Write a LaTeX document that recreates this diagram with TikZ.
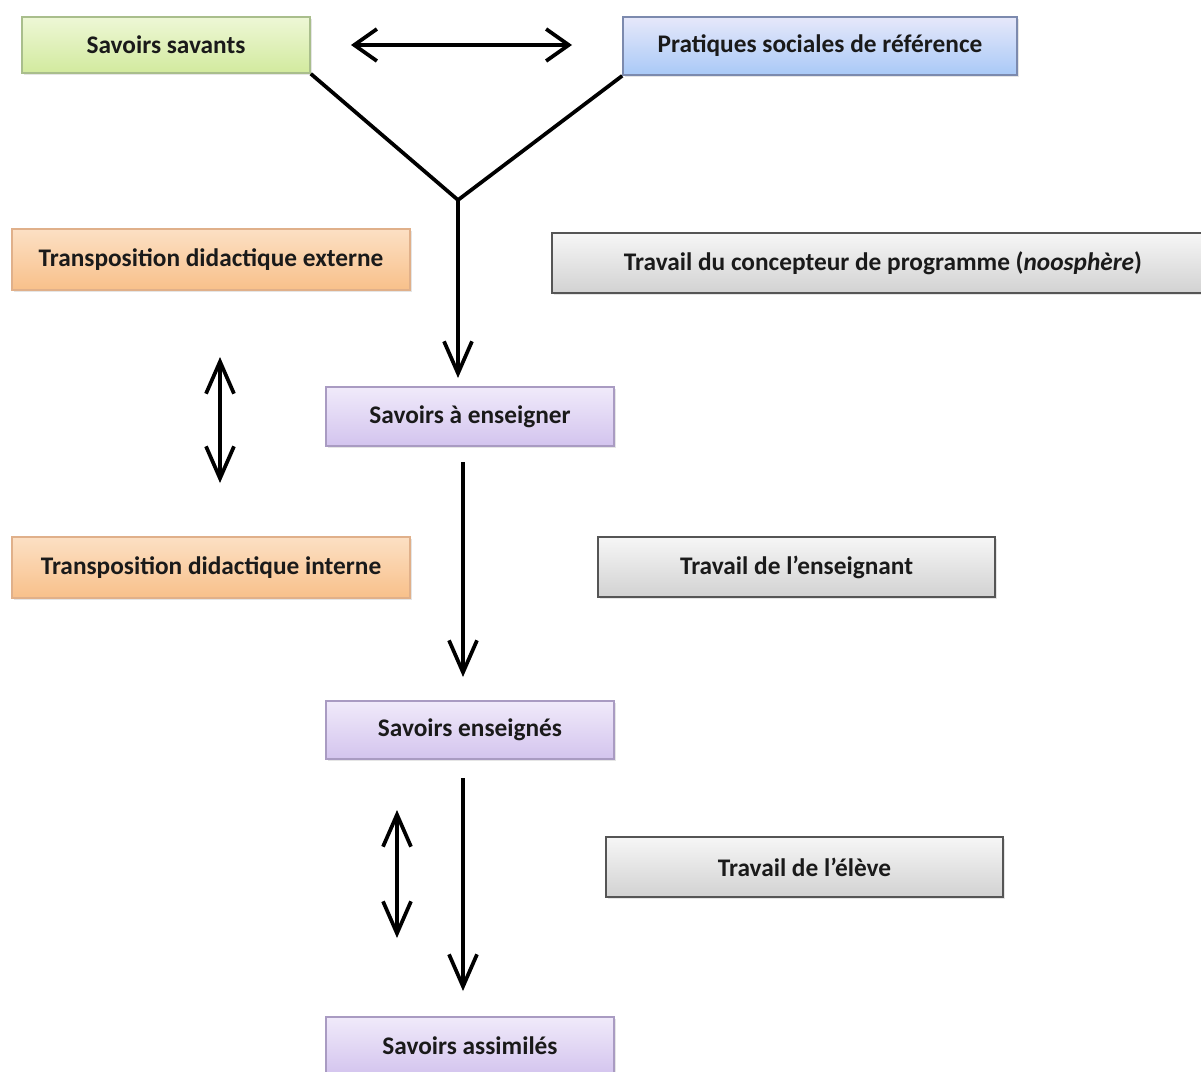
\documentclass[tikz,border=0pt]{standalone}
\usepackage{fontspec}
\setmainfont{Carlito}
\usetikzlibrary{arrows.meta,shadows}
\definecolor{txt}{HTML}{1A1A1A}
\definecolor{gtop}{HTML}{EEF7D6}
\definecolor{gbot}{HTML}{D2EA9E}
\definecolor{gbord}{HTML}{A9BE8C}
\definecolor{btop}{HTML}{E6E8FA}
\definecolor{bbot}{HTML}{A9C9F7}
\definecolor{bbord}{HTML}{7C8AAE}
\definecolor{otop}{HTML}{FCE0C4}
\definecolor{obot}{HTML}{F8C08A}
\definecolor{obord}{HTML}{E0B08A}
\definecolor{ptop}{HTML}{F0EAFA}
\definecolor{pbot}{HTML}{D3C4EE}
\definecolor{pbord}{HTML}{A99BC2}
\definecolor{ytop}{HTML}{F6F6F6}
\definecolor{ybot}{HTML}{D2D2D2}
\definecolor{ybord}{HTML}{555555}
\tikzset{
  box/.style={draw=#1, line width=1.2pt, inner sep=0pt, font=\bfseries\fontsize{19}{21}\selectfont, text=txt,
     drop shadow={shadow xshift=1.5pt, shadow yshift=-1.5pt, opacity=0.2}},
  greenbox/.style={box=gbord, top color=gtop, bottom color=gbot},
  bluebox/.style={box=bbord, top color=btop, bottom color=bbot},
  orangebox/.style={box=obord, top color=otop, bottom color=obot},
  greybox/.style={box=ybord, line width=1.6pt, top color=ytop, bottom color=ybot},
  purplebox/.style={box=pbord, top color=ptop, bottom color=pbot},
  conn/.style={line width=2.8pt, black},
  vtip/.tip={Straight Barb[length=24pt, width=21pt, line width=2.8pt]},
  htip/.tip={Straight Barb[length=17pt, width=24pt, line width=2.8pt]},
  arr/.style={conn, -vtip},
  darr/.style={conn, vtip-vtip},
  harr/.style={conn, htip-htip},
}
\begin{document}
\begin{tikzpicture}[x=0.75pt, y=-0.75pt]
\useasboundingbox (0,0) rectangle (1201,1071);
\fill[white] (0,0) rectangle (1201,1071);
\begin{scope}
\clip (0,0) rectangle (1201,1071);
\node[greenbox, minimum width=216pt, minimum height=42pt] (ss) at (166,45) {Savoirs savants};
\node[bluebox, minimum width=295.5pt, minimum height=43.5pt] (ps) at (820,46) {Pratiques sociales de référence};
\node[orangebox, minimum width=298.5pt, minimum height=45.75pt] (tde) at (211,259.5) {Transposition didactique externe};
\node[greybox, minimum width=496.5pt, minimum height=45pt] (tc) at (883,263)
  {Travail du concepteur de programme (\textit{noosphère})};
\node[purplebox, minimum width=216pt, minimum height=44pt] (sae) at (470,416.5) {Savoirs à enseigner};
\node[orangebox, minimum width=298.5pt, minimum height=45.75pt] (tdi) at (211,567.5) {Transposition didactique interne};
\node[greybox, minimum width=297.75pt, minimum height=45pt] (te) at (796.5,567) {Travail de l’enseignant};
\node[purplebox, minimum width=216pt, minimum height=43.5pt] (sen) at (470,730) {Savoirs enseignés};
\node[greybox, minimum width=297.75pt, minimum height=45pt] (tel) at (804.5,867) {Travail de l’élève};
\node[purplebox, minimum width=216pt, minimum height=43.5pt] (sas) at (470,1046) {Savoirs assimilés};
\end{scope}
\coordinate (yj) at (458,200);
\coordinate (h1) at (351,45);
\coordinate (h2) at (572,45);
\coordinate (a1) at (458,378);
\coordinate (b0) at (463,462);
\coordinate (b1) at (463,677);
\coordinate (c0) at (463,778);
\coordinate (c1) at (463,991);
\coordinate (d0) at (220,357);
\coordinate (d1) at (220,483);
\coordinate (e0) at (397,810);
\coordinate (e1) at (397,938);
\draw[harr] (h1) -- (h2);
\draw[conn, line join=miter] (ss.south east) -- (yj) -- (ps.south west);
\draw[arr] (yj) -- (a1);
\draw[arr] (b0) -- (b1);
\draw[arr] (c0) -- (c1);
\draw[darr] (d0) -- (d1);
\draw[darr] (e0) -- (e1);
\end{tikzpicture}
\end{document}
